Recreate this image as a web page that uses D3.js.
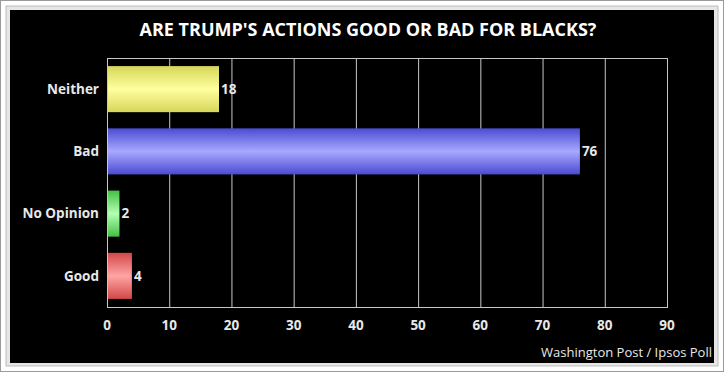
<!DOCTYPE html>
<html>
<head>
<meta charset="utf-8">
<script src="https://cdn.jsdelivr.net/npm/d3@7"></script>
<style>
  body { margin: 0; background: #fff; }
  svg text { font-family: "Open Sans", "DejaVu Sans", sans-serif; }
</style>
</head>
<body>
<div id="chart"></div>
<script>
// data
let categories = ["Neither", "Bad", "No Opinion", "Good"];
let values = [18, 76, 2, 4];
let barColors = [["#d6d65a", "#ffff9e"], ["#4b4bd2", "#a8a8ff"], ["#44c044", "#b4ffb4"], ["#d24848", "#ffa4a4"]];
let ticks = [0, 10, 20, 30, 40, 50, 60, 70, 80, 90];
let title = "ARE TRUMP'S ACTIONS GOOD OR BAD FOR BLACKS?";
let source = "Washington Post / Ipsos Poll";

let total_width = 725, total_height = 373;
let plot = {left: 107, right: 667, top: 58, bottom: 307};

var svg = d3.select("#chart").append("svg")
    .attr("width", total_width)
    .attr("height", total_height);

let defs = svg.append("defs");
barColors.forEach((c, i) => {
  let g = defs.append("linearGradient").attr("id", "grad" + i)
      .attr("x1", 0).attr("x2", 0).attr("y1", 0).attr("y2", 1);
  g.append("stop").attr("offset", "0%").attr("stop-color", c[0]);
  g.append("stop").attr("offset", "50%").attr("stop-color", c[1]);
  g.append("stop").attr("offset", "100%").attr("stop-color", c[0]);
});

// frame + shadow
svg.append("rect").attr("x", 0.5).attr("y", 0.5).attr("width", 723).attr("height", 371)
   .attr("fill", "#fff").attr("stroke", "#9a9a9a");
svg.append("rect").attr("x", 12).attr("y", 12).attr("width", 706).attr("height", 354)
   .attr("fill", "#8c8c8c");
svg.append("rect").attr("x", 6).attr("y", 6).attr("width", 712).attr("height", 360)
   .attr("fill", "#e6e6e6").attr("stroke", "#bdbdbd");
svg.append("rect").attr("x", 10).attr("y", 10).attr("width", 704).attr("height", 353)
   .attr("fill", "#000");

var x = d3.scaleLinear().domain([0, 90]).range([plot.left, plot.right]);
var y = d3.scaleBand().domain(categories).range([plot.top, plot.bottom]).paddingInner(0.26).paddingOuter(0.13);

// gridlines
svg.append("g").selectAll("line").data(ticks).enter().append("line")
   .attr("x1", d => x(d) + 0.5).attr("x2", d => x(d) + 0.5)
   .attr("y1", plot.top).attr("y2", plot.bottom)
   .attr("stroke", "#c8c8c8").attr("stroke-width", 1);
svg.append("line").attr("x1", plot.left).attr("x2", plot.right + 1)
   .attr("y1", plot.top + 0.5).attr("y2", plot.top + 0.5).attr("stroke", "#c8c8c8");
svg.append("line").attr("x1", plot.left).attr("x2", plot.right + 1)
   .attr("y1", plot.bottom + 0.5).attr("y2", plot.bottom + 0.5).attr("stroke", "#c8c8c8");

// bars
svg.append("g").selectAll("rect").data(values).enter().append("rect")
   .attr("x", x(0) + 1)
   .attr("y", (d, i) => y(categories[i]))
   .attr("width", d => x(d) - x(0) - 1)
   .attr("height", y.bandwidth())
   .attr("fill", (d, i) => "url(#grad" + i + ")");

// value labels
svg.append("g").selectAll("text").data(values).enter().append("text")
   .attr("x", d => x(d) + 2)
   .attr("y", (d, i) => y(categories[i]) + y.bandwidth() / 2)
   .attr("dy", "0.35em")
   .attr("fill", "#e8e8e8").attr("font-size", 13.5).attr("font-weight", "bold")
   .text(d => d);

// category labels
svg.append("g").selectAll("text").data(categories).enter().append("text")
   .attr("x", plot.left - 8)
   .attr("y", d => y(d) + y.bandwidth() / 2)
   .attr("dy", "0.35em")
   .attr("text-anchor", "end")
   .attr("fill", "#e8e8e8").attr("font-size", 13.5).attr("font-weight", "bold")
   .text(d => d);

// x tick labels
svg.append("g").selectAll("text").data(ticks).enter().append("text")
   .attr("x", d => x(d))
   .attr("y", plot.bottom + 18)
   .attr("dy", "0.35em")
   .attr("text-anchor", "middle")
   .attr("fill", "#e8e8e8").attr("font-size", 13.5).attr("font-weight", "bold")
   .text(d => d);

svg.append("text")
   .attr("x", 368).attr("y", 30).attr("dy", "0.35em")
   .attr("text-anchor", "middle")
   .attr("fill", "#fff").attr("font-size", 18).attr("font-weight", "bold")
   .text(title);

svg.append("text")
   .attr("x", 712).attr("y", 357)
   .attr("text-anchor", "end")
   .attr("fill", "#e8e8e8").attr("font-size", 13)
   .text(source);
</script>
</body>
</html>
